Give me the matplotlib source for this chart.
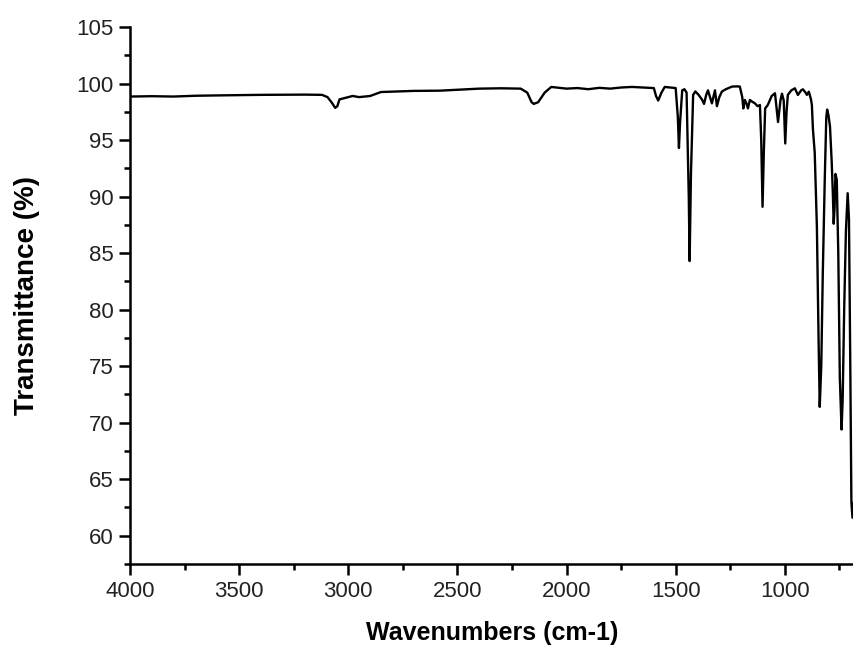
"""FTIR spectrum: transmittance vs wavenumber"""
import matplotlib
matplotlib.use('Agg')
import matplotlib.pyplot as plt
from matplotlib.ticker import MultipleLocator

plt.rcParams['font.family'] = ['Liberation Sans', 'DejaVu Sans']

# wavenumber (cm-1) and transmittance (%)
wavenumber = [
    4000, 3900, 3800, 3700, 3600, 3400, 3200, 3120, 3095, 3075, 3060, 3050,
    3040, 3020, 2980, 2950, 2900, 2850, 2700, 2580, 2500, 2400, 2300, 2210,
    2180, 2160, 2150, 2130, 2100, 2070, 2000, 1950, 1900, 1850, 1800, 1750,
    1700, 1650, 1600, 1590, 1580, 1565, 1550, 1500, 1490, 1485, 1480, 1470,
    1460, 1450, 1440, 1436, 1430, 1420, 1410, 1395, 1380, 1370, 1360, 1352,
    1334, 1320, 1311, 1300, 1288, 1270, 1242, 1220, 1206, 1195, 1190, 1183,
    1175, 1169, 1160, 1150, 1137, 1125, 1114, 1108, 1102, 1096, 1090, 1078,
    1060, 1045, 1031, 1020, 1013, 1005, 998, 992, 986, 970, 954, 940,
    925, 917, 905, 899, 890, 880, 876, 871, 863, 853, 845, 840,
    833, 826, 817, 810, 806, 800, 793, 785, 780, 776, 772, 768,
    762, 755, 748, 740, 735, 728, 720, 712, 706, 700, 695, 690, 683,
]
transmittance = [
    98.85, 98.88, 98.85, 98.92, 98.95, 99.0, 99.02, 99.0, 98.8, 98.3, 97.85, 98.0,
    98.6, 98.7, 98.9, 98.8, 98.9, 99.25, 99.35, 99.37, 99.45, 99.55, 99.58, 99.55,
    99.2, 98.35, 98.2, 98.35, 99.2, 99.7, 99.55, 99.6, 99.5, 99.62, 99.55, 99.65,
    99.7, 99.65, 99.6, 98.9, 98.5, 99.2, 99.7, 99.6, 97.0, 94.3, 96.5, 99.4,
    99.5, 99.2, 90.0, 84.3, 92.0, 99.0, 99.3, 99.0, 98.6, 98.2, 99.0, 99.4,
    98.25, 99.4, 98.0, 98.8, 99.3, 99.5, 99.73, 99.75, 99.73, 98.8, 97.8, 98.55,
    98.2, 97.8, 98.55, 98.4, 98.25, 98.0, 98.1, 95.0, 89.1, 94.0, 97.8, 98.1,
    98.9, 99.14, 96.6, 98.5, 99.1, 98.5, 94.7, 97.5, 99.0, 99.4, 99.58, 98.99,
    99.4, 99.49, 99.2, 99.0, 99.28, 98.6, 98.1, 95.9, 93.9, 87.3, 77.0, 71.4,
    75.0, 83.2, 91.5, 97.0, 97.7, 97.2, 96.2, 93.0, 90.3, 87.6, 89.0, 92.0,
    91.5, 85.0, 74.0, 69.4, 72.0, 80.0, 87.0, 90.3, 88.0, 75.0, 63.0, 61.6, 63.0,
]

fig = plt.figure(figsize=(8.54, 6.48), dpi=100)
ax = fig.add_axes([0.1522, 0.1296, 0.8478, 0.8287])

ax.plot(wavenumber, transmittance, color='black', linewidth=1.7)

ax.set_xlim(4000, 683)
ax.set_ylim(57.5, 105)

ax.xaxis.set_major_locator(MultipleLocator(500))
ax.xaxis.set_minor_locator(MultipleLocator(250))
ax.yaxis.set_major_locator(MultipleLocator(5))
ax.yaxis.set_minor_locator(MultipleLocator(2.5))

for side in ['top', 'right']:
    ax.spines[side].set_visible(False)
for side in ['left', 'bottom']:
    ax.spines[side].set_linewidth(1.8)

ax.tick_params(which='major', direction='out', length=8, width=1.8,
               labelsize=16, labelcolor='#222222', pad=4)
ax.tick_params(which='minor', direction='out', length=4.5, width=1.8)

ax.set_xlabel('Wavenumbers (cm-1)', fontsize=18, fontweight='bold', labelpad=14)
ax.set_ylabel('Transmittance (%)', fontsize=20, fontweight='bold', labelpad=26)

fig.savefig('out.png', dpi=100)
plt.close(fig)
